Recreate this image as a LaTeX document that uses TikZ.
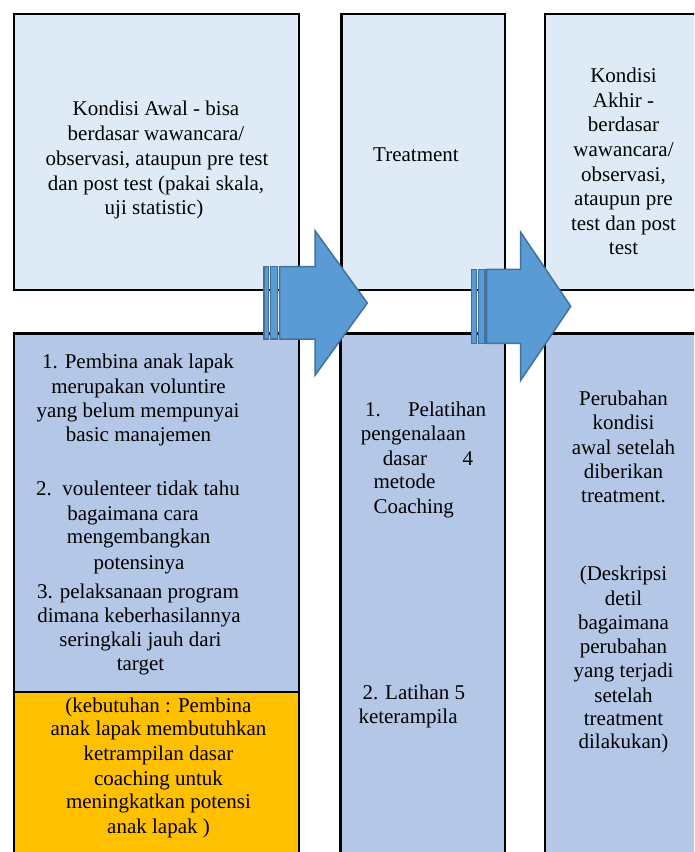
\documentclass[tikz,border=0pt]{standalone}
\usepackage{fontspec}
\setmainfont{Liberation Serif}
\definecolor{topfill}{HTML}{DEEBF7}
\definecolor{botfill}{HTML}{B4C7E7}
\definecolor{orangefill}{HTML}{FFC000}
\definecolor{arrowfill}{HTML}{5B9BD5}
\definecolor{arrowline}{HTML}{41719C}
\begin{document}
\begin{tikzpicture}[x=1pt,y=-1pt,
  box/.style={draw=black,line width=2.2pt},
  txt/.style={font=\fontsize{21}{25}\selectfont,inner sep=0pt,anchor=base},
  txtw/.style={font=\fontsize{21}{25}\selectfont,inner sep=0pt,anchor=base west},
  arr/.style={fill=arrowfill,draw=arrowline,line width=1.5pt,line join=miter}]
\useasboundingbox (0,0) rectangle (694,852);
\clip (0,0) rectangle (694,852);
% boxes
\path[box,fill=topfill] (13.8,13.8) rectangle (299.3,290);
\path[box,fill=topfill] (341.5,13.8) rectangle (505,290);
\path[box,fill=topfill] (545,13.8) rectangle (720,290);
\path[box,fill=botfill] (13.8,333.5) rectangle (299.3,692);
\path[box,fill=orangefill] (13.8,692) rectangle (299.3,880);
\path[box,fill=botfill] (340.5,333.5) rectangle (505.3,880);
\path[box,fill=botfill] (544.8,333.5) rectangle (720,880);
% texts: left top
\foreach \x/\y/\t [count=\i] in {156/115/{Kondisi Awal - bisa},156/140/{berdasar wawancara/},157/165/{observasi, ataupun pre test},156/190/{dan post test (pakai skala,},154/214/{uji statistic)}}
  \node[txt] (lt\i) at (\x,\y) {\t};
% middle top
\node[txt] (mt) at (416,161) {Treatment};
% right top
\foreach \y/\t [count=\i] in {82/{Kondisi},107/{Akhir -},131/{berdasar},156/{wawancara/},181/{observasi,},205/{ataupun pre},230/{test dan post},254/{test}}
  \node[txt] (rt\i) at (623.5,\y) {\t};
% left bottom
\foreach \x/\y/\t [count=\i] in {138/368/{1. Pembina anak lapak},138.5/393/{merupakan voluntire},138/417/{yang belum mempunyai},138.5/441/{basic manajemen},138/495/{2.\ \ voulenteer tidak tahu},133/520/{bagaimana cara},138.7/543/{mengembangkan},139/569/{potensinya},138/598/{3. pelaksanaan program},139/622/{dimana keberhasilannya},140.5/646/{seringkali jauh dari},140.5/670/{target}}
  \node[txt] (lb\i) at (\x,\y) {\t};
% orange
\foreach \y/\t [count=\i] in {712/{(kebutuhan : Pembina},735/{anak lapak membutuhkan},760/{ketrampilan dasar},785/{coaching untuk},808/{meningkatkan potensi},833/{anak lapak )}}
  \node[txt] (ob\i) at (158.5,\y) {\t};
% middle bottom
\node[txtw] (mb1) at (365,416) {\hbox to 121pt{1.\hfil Pelatihan}};
\node[txtw] (mb2) at (360.7,440) {pengenalaan};
\node[txtw] (mb3) at (382.7,465) {\hbox to 90.3pt{dasar\hfil 4}};
\node[txtw] (mb4) at (373.3,488) {metode};
\node[txtw] (mb5) at (373.3,513) {Coaching};
\node[txtw] (mb6) at (362.3,699) {2. Latihan 5};
\node[txtw] (mb7) at (358.3,723) {keterampila};
% right bottom
\foreach \y/\t [count=\i] in {405/{Perubahan},429/{kondisi},454/{awal setelah},478/{diberikan},502/{treatment.},580/{(Deskripsi},605/{detil},629/{bagaimana},653/{perubahan},677/{yang terjadi},702/{setelah},725/{treatment},748/{dilakukan)}}
  \node[txt] (rb\i) at (623.5,\y) {\t};
% arrow 1
\path[arr] (264,266.7) rectangle (268.7,339);
\path[arr] (270.7,266.7) rectangle (277.5,339);
\path[arr] (279.5,266.7) -- (315,266.7) -- (315,230.7) -- (367.3,303) -- (315,375.3) -- (315,339) -- (279.5,339) -- cycle;
% arrow 2
\path[arr] (471.7,269.3) rectangle (476.5,343.3);
\path[arr] (478.3,269.3) rectangle (485,343.3);
\path[arr] (486.7,269.3) -- (520.7,269.3) -- (520.7,232.3) -- (570.7,306.3) -- (520.7,380.3) -- (520.7,343.3) -- (486.7,343.3) -- cycle;
\end{tikzpicture}
\end{document}
